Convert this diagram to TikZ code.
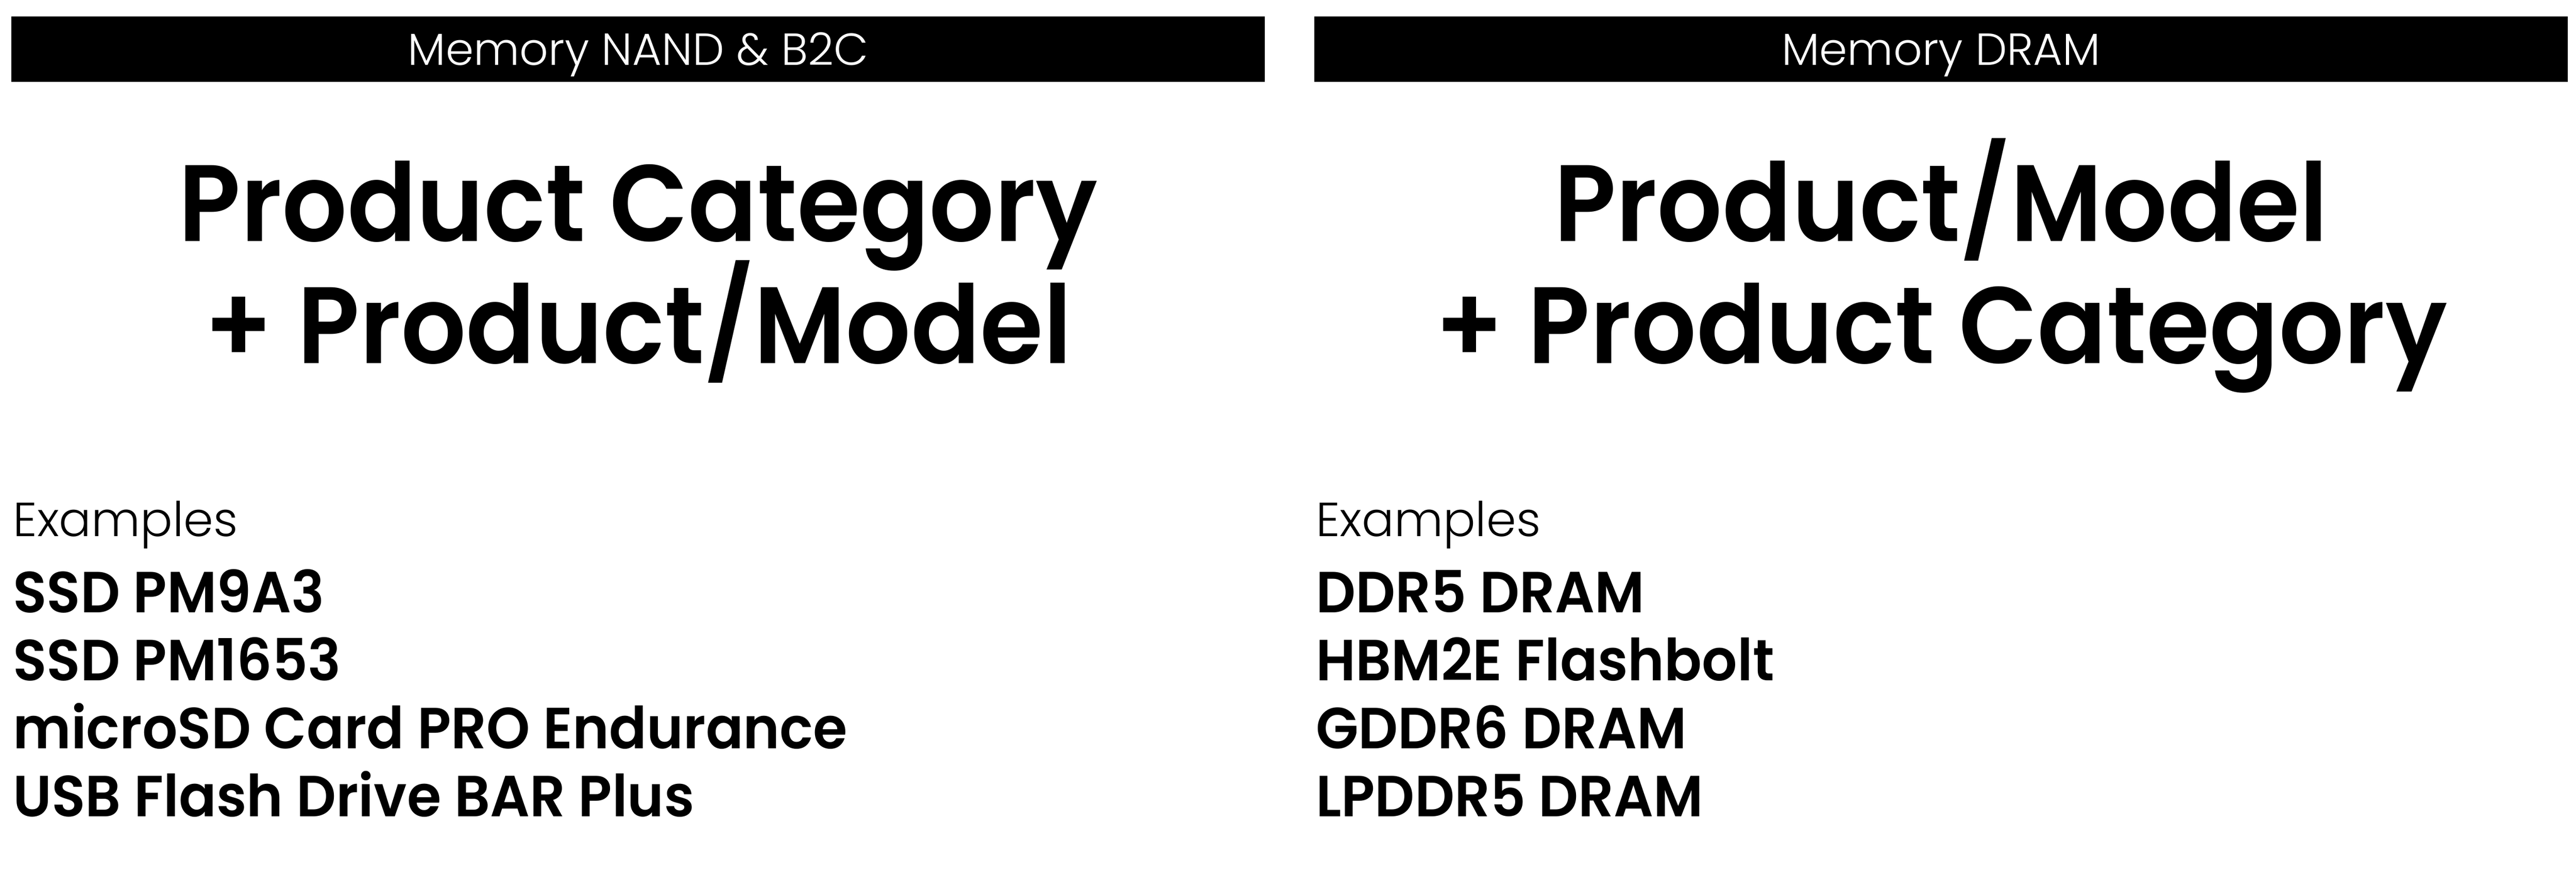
\documentclass[tikz,border=0pt]{standalone}
\usepackage{fontspec}
\setmainfont{Poppins}
\newfontfamily\lightfont{Poppins Light}
\newfontfamily\headfont{Poppins SemiBold}[FakeStretch=0.94]
\newfontfamily\itemfont{Poppins SemiBold}[FakeStretch=0.955]
\usetikzlibrary{positioning}

\begin{document}
\begin{tikzpicture}[
  bar/.style={fill=black, minimum width=30.38cm, minimum height=1.59cm, inner sep=0pt},
  bartext/.style={anchor=base, text=white, inner sep=0pt, font=\lightfont\fontsize{31}{37}\selectfont},
  head/.style={anchor=base, inner sep=0pt, font=\headfont\fontsize{75}{84}\selectfont},
  intro/.style={anchor=base west, inner sep=0pt, font=\lightfont\fontsize{33}{39}\selectfont},
  item/.style={anchor=base west, inner sep=0pt, font=\itemfont\fontsize{40}{48}\selectfont}
]
\def\gap{1.645}
\useasboundingbox (0,0) rectangle (62.44,-21.21);

% left column
\node[bar] (barL) at (15.47,-1.195) {};
\node[bartext] (barLtext) at (15.47,-1.58) {Memory NAND \& B2C};
\node[head] (headL1) at (15.47,-5.85) {Product Category};
\node[head] (headL2) at (15.47,-8.81) {+ Product/Model};
\node[intro] (exL) at (0.31,-13.0) {Examples};
\foreach \t [count=\i] in {SSD PM9A3, SSD PM1653, microSD Card PRO Endurance, USB Flash Drive BAR Plus}
  \node[item] (itemL\i) at (0.31,{-14.86-(\i-1)*\gap}) {\t};

% right column
\node[bar] (barR) at (47.05,-1.195) {};
\node[bartext] (barRtext) at (47.05,-1.58) {Memory DRAM};
\node[head] (headR1) at (47.05,-5.85) {Product/Model};
\node[head] (headR2) at (47.05,-8.81) {+ Product Category};
\node[intro] (exR) at (31.89,-13.0) {Examples};
\foreach \t [count=\i] in {DDR5 DRAM, HBM2E Flashbolt, GDDR6 DRAM, LPDDR5 DRAM}
  \node[item] (itemR\i) at (31.89,{-14.86-(\i-1)*\gap}) {\t};

\end{tikzpicture}
\end{document}
